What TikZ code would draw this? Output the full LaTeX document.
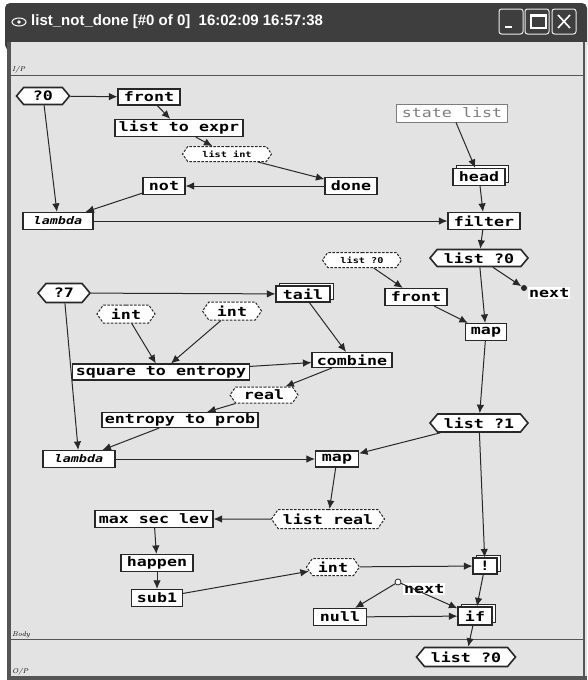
\documentclass[tikz,border=0pt]{standalone}
\usepackage{fontspec}
\setmonofont{DejaVu Sans Mono}[FakeStretch=1.28]
\newfontfamily\titlefont{Liberation Sans}
\usetikzlibrary{arrows.meta,shapes.symbols,shadows,positioning}
\definecolor{PanelGray}{RGB}{227,227,227}
\definecolor{TitleGray}{RGB}{62,62,62}
\definecolor{EdgeGray}{RGB}{40,40,40}
\definecolor{FrameGray}{RGB}{85,85,85}
\definecolor{StateGray}{RGB}{125,125,125}

\begin{document}
\begin{tikzpicture}[x=1pt,y=-1pt,>={Latex[length=8.5pt,width=7.5pt]},
    sz/.style 2 args={minimum width=#1pt,minimum height=#2pt},
    fn/.style={draw=EdgeGray,line width=1.15pt,fill=white,inner sep=0pt,font=\ttfamily\bfseries\fontsize{13}{13}\selectfont},
    lam/.style={fn,font=\ttfamily\bfseries\itshape\fontsize{10.5}{10.5}\selectfont},
    stack/.style={fn,copy shadow={shadow xshift=3pt,shadow yshift=3pt,draw=EdgeGray,fill=white,line width=1pt}},
    port/.style={fn,shape=signal,signal to=east and west,signal pointer angle=100,line width=1.6pt},
    tp/.style={fn,shape=signal,signal to=east and west,signal pointer angle=110,line width=1pt,dash pattern=on 2.5pt off 1.5pt},
    tpsm/.style={tp,font=\ttfamily\bfseries\fontsize{8}{8}\selectfont},
    lbl/.style={fill=white,inner sep=1pt,font=\ttfamily\bfseries\fontsize{13}{13}\selectfont},
    tag/.style={inner sep=0pt,anchor=west,font=\itshape\fontsize{7}{7}\selectfont},
    wire/.style={->,draw=EdgeGray,line width=1pt}]
  \useasboundingbox (0,0) rectangle (587,680);
  \fill[white] (0,0) rectangle (587,680);
  \fill[TitleGray,rounded corners=5pt] (5,3) rectangle (587,50);
  \fill[PanelGray] (7,42) rectangle (587,680);
  \fill[FrameGray] (7,42) rectangle (11,680);
  \fill[FrameGray] (7,676) rectangle (587,680);
  \draw[FrameGray,line width=1.2pt] (584,42) -- (584,676);
  \draw[FrameGray,line width=1pt] (11,75) -- (584,75);
  \draw[FrameGray,line width=1pt] (11,639) -- (584,639);
  \node[tag] (ip) at (12,70) {I/P};
  \node[tag] (body) at (12,635) {Body};
  \node[tag] (op) at (12,672) {O/P};

  \draw[white,line width=1pt] (19,22) ellipse (7 and 4);
  \fill[white] (19,22) circle (1.8);
  \node[anchor=west,text=white,inner sep=0pt,font=\titlefont\bfseries\fontsize{15}{15}\selectfont] (title) at (31,22) {list\_not\_done [\#0 of 0]\ \ 16:02:09 16:57:38};
  \foreach \bx in {499,525,552}
    \draw[white!85!gray,line width=1pt,rounded corners=2.5pt] (\bx,9) rectangle ++(24,25);
  \draw[white,line width=2pt] (505,27) -- (512,27);
  \draw[white,line width=1.2pt] (531,15) rectangle (546,28);
  \draw[white,line width=2pt] (531,15.5) -- (546,15.5);
  \draw[white,line width=1.6pt] (558,15) -- (570,28) (570,15) -- (558,28);

  \node[port,sz={53}{17}] (q0) at (43,96) {?0};
  \node[fn,sz={62}{16}] (front) at (149,97) {front};
  \node[fn,sz={128}{17}] (lstexpr) at (179,128) {list to expr};
  \node[tpsm,sz={89}{15}] (listint) at (227,154) {list int};
  \node[fn,sz={42}{17}] (not) at (164,186) {not};
  \node[fn,sz={52}{17}] (done) at (351,186) {done};
  \node[lam,sz={70}{17}] (lamtop) at (58,221) {lambda};
  \node[fn,draw=StateGray,line width=1pt,text=StateGray,font=\ttfamily\fontsize{13}{13}\selectfont,sz={111}{18}] (statelist) at (452,113) {state list};
  \node[stack,sz={52}{17}] (head) at (479,177) {head};
  \node[fn,sz={72}{17}] (filter) at (484,221) {filter};
  \node[port,sz={98}{17}] (lqa) at (479,258) {list ?0};
  \node[circle,fill=EdgeGray,inner sep=0pt,minimum size=6pt] (nextdot) at (524,288) {};
  \node[lbl,anchor=west] (nexta) at (528,293) {next};
  \node[tpsm,sz={79}{15}] (listq) at (362,260) {list ?0};
  \node[fn,sz={62}{17}] (frontb) at (416,297) {front};
  \node[fn,sz={41}{17}] (mapa) at (486,332) {map};

  \node[port,sz={52}{19}] (q7) at (64,293) {?7};
  \node[stack,sz={54}{16}] (tail) at (303,294) {tail};
  \node[tp,sz={58}{18}] (inta) at (126,314) {int};
  \node[tp,sz={59}{18}] (intb) at (232,311) {int};
  \node[fn,sz={177}{16}] (sqent) at (161,372) {square to entropy};
  \node[fn,sz={80}{15}] (combine) at (352,360) {combine};
  \node[tp,sz={68}{16}] (real) at (264,395) {real};
  \node[fn,sz={156}{15}] (etp) at (180,420) {entropy to prob};
  \node[lam,sz={72}{17}] (lambot) at (79,459) {lambda};
  \node[fn,sz={43}{16}] (mapb) at (337,459) {map};
  \node[port,sz={98}{18}] (lqb) at (479,423) {list ?1};

  \node[tp,sz={113}{19}] (listreal) at (328,519) {list real};
  \node[fn,sz={118}{17}] (maxsec) at (154,519) {max sec lev};
  \node[fn,sz={72}{17}] (happen) at (157,563) {happen};
  \node[fn,sz={51}{17}] (subone) at (157,598) {sub1};
  \node[tp,sz={53}{17}] (intc) at (333,567) {int};
  \node[stack,sz={24}{16}] (bang) at (485,566) {!};
  \node[circle,draw=EdgeGray,fill=white,line width=0.8pt,inner sep=0pt,minimum size=6pt] (nextc) at (398,582) {};
  \node[lbl,anchor=west] (nextb) at (403,589) {next};
  \node[fn,sz={53}{17}] (null) at (340,617) {null};
  \node[stack,sz={34}{18}] (ifn) at (475,616) {if};
  \node[port,sz={99}{19}] (lqc) at (466,657) {list ?0};

  \draw[wire] (q0) -- (front);
  \draw[wire] (front) -- (lstexpr);
  \draw[wire] (lstexpr) -- (listint);
  \draw[wire] (listint) -- (done);
  \draw[wire] (done) -- (not);
  \draw[wire] (not) -- (lamtop);
  \draw[wire] (q0) -- (lamtop);
  \draw[wire] (lamtop) -- (filter);
  \draw[wire] (statelist) -- (head);
  \draw[wire] (head) -- (filter);
  \draw[wire] (filter) -- (lqa);
  \draw[wire] (lqa) -- (nextdot);
  \draw[wire] (lqa) -- (mapa);
  \draw[wire] (listq) -- (frontb);
  \draw[wire] (frontb) -- (mapa);
  \draw[wire] (mapa) -- (lqb);
  \draw[wire] (q7) -- (tail);
  \draw[wire] (inta) -- (sqent);
  \draw[wire] (intb) -- (sqent);
  \draw[wire] (tail) -- (combine);
  \draw[wire] (sqent) -- (combine);
  \draw[wire] (combine) -- (real);
  \draw[wire] (real) -- (etp);
  \draw[wire] (q7) -- (lambot);
  \draw[wire] (etp) -- (lambot);
  \draw[wire] (lambot) -- (mapb);
  \draw[wire] (lqb) -- (mapb);
  \draw[wire] (mapb) -- (listreal);
  \draw[wire] (listreal) -- (maxsec);
  \draw[wire] (maxsec) -- (happen);
  \draw[wire] (happen) -- (subone);
  \draw[wire] (subone) -- (intc);
  \draw[wire] (intc) -- (bang);
  \draw[wire] (lqb) -- (bang);
  \draw[wire] (nextc) -- (null);
  \draw[wire] (nextc) -- (ifn);
  \draw[wire] (null) -- (ifn);
  \draw[wire] (bang) -- (ifn);
  \draw[wire] (ifn) -- (lqc);
\end{tikzpicture}
\end{document}
